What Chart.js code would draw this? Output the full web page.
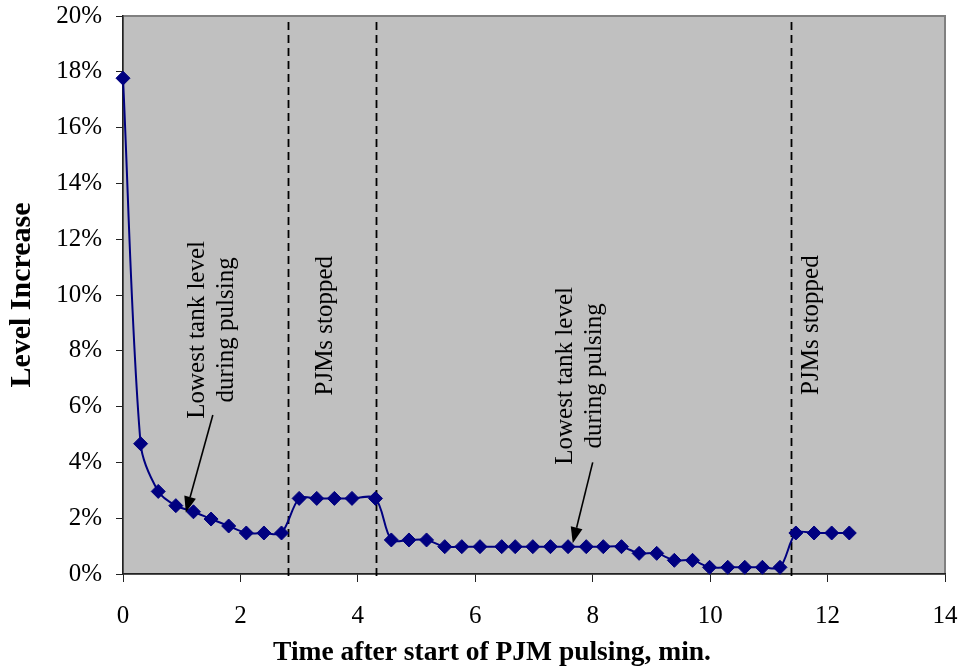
<!DOCTYPE html>
<html>
<head>
<meta charset="utf-8">
<script src="https://cdn.jsdelivr.net/npm/chart.js@4.4.0/dist/chart.umd.min.js"></script>
<style>
  html, body { margin: 0; padding: 0; background: #fff; }
  #wrap { width: 962px; height: 671px; }
</style>
</head>
<body>
<div id="wrap"><canvas id="levelChart"></canvas></div>
<script>
// time after start of pulsing (min) and level increase (%)
const timeMin = [0, 0.3, 0.6, 0.9, 1.2, 1.5, 1.8, 2.1, 2.4, 2.7,
  3.0, 3.3, 3.6, 3.9, 4.3, 4.57, 4.87, 5.17, 5.48, 5.77,
  6.08, 6.45, 6.68, 6.98, 7.28, 7.58, 7.89, 8.18, 8.49, 8.79,
  9.09, 9.39, 9.7, 9.99, 10.3, 10.59, 10.89, 11.19, 11.46, 11.77,
  12.07, 12.37]
const levelPct = [17.77, 4.67, 2.96, 2.45, 2.23, 1.97, 1.72, 1.47, 1.47, 1.47,
  2.71, 2.71, 2.71, 2.71, 2.71, 1.22, 1.22, 1.22, 0.98, 0.98,
  0.98, 0.98, 0.98, 0.98, 0.98, 0.98, 0.98, 0.98, 0.98, 0.74,
  0.74, 0.49, 0.49, 0.24, 0.24, 0.24, 0.24, 0.24, 1.47, 1.47,
  1.47, 1.47]

// times where the PJMs were switched off / on
const stopTimes = [2.81, 4.31, 11.38]

// notes drawn inside the plot: lines of text, centre (x in min, y in %)
const notes = [
  { lines: ['Lowest tank level', 'during pulsing'], x: 1.52, y: 8.75 },
  { lines: ['PJMs stopped'], x: 3.45, y: 8.9 },
  { lines: ['Lowest tank level', 'during pulsing'], x: 7.79, y: 7.1 },
  { lines: ['PJMs stopped'], x: 11.73, y: 8.92 }
]

// arrows: from (x0, y0) to tip (x1, y1)
const arrows = [
  { x0: 1.53, y0: 5.7, x1: 1.07, y1: 2.2 },
  { x0: 8.0, y0: 4.0, x1: 7.66, y1: 1.1 }
]

const xTitle = 'Time after start of PJM pulsing, min.'

const serif = 'Liberation Serif, Times New Roman, serif'
const points = timeMin.map((t, i) => ({ x: t, y: levelPct[i] }))

const plotDecor = {
  id: 'plotDecor',
  beforeDraw(chart) {
    const { ctx, chartArea: a } = chart
    ctx.save()
    ctx.fillStyle = '#c0c0c0'
    ctx.fillRect(a.left, a.top, a.right - a.left, a.bottom - a.top)
    ctx.strokeStyle = '#808080'
    ctx.lineWidth = 2
    ctx.strokeRect(a.left, a.top, a.right - a.left, a.bottom - a.top)
    ctx.restore()
  },
  beforeDatasetsDraw(chart) {
    const { ctx, chartArea: a, scales } = chart
    ctx.save()
    ctx.strokeStyle = '#000'
    ctx.lineWidth = 1.8
    ctx.setLineDash([8, 5])
    stopTimes.forEach(t => {
      const px = Math.round(scales.x.getPixelForValue(t)) + 0.5
      ctx.beginPath()
      ctx.moveTo(px, a.top + 6)
      ctx.lineTo(px, a.bottom + 6)
      ctx.stroke()
    })
    ctx.restore()
  },
  afterDatasetsDraw(chart) {
    const { ctx, scales } = chart
    ctx.save()
    ctx.fillStyle = '#000'
    ctx.font = '25px ' + serif
    ctx.textAlign = 'center'
    ctx.textBaseline = 'middle'
    notes.forEach(n => {
      const cx = scales.x.getPixelForValue(n.x)
      const cy = scales.y.getPixelForValue(n.y)
      const step = 29
      n.lines.forEach((line, i) => {
        const off = (i - (n.lines.length - 1) / 2) * step
        ctx.save()
        ctx.translate(cx + off, cy)
        ctx.rotate(-Math.PI / 2)
        ctx.fillText(line, 0, 0)
        ctx.restore()
      })
    })

    ctx.strokeStyle = '#000'
    ctx.lineWidth = 1.6
    arrows.forEach(ar => {
      const x0 = scales.x.getPixelForValue(ar.x0)
      const y0 = scales.y.getPixelForValue(ar.y0)
      const x1 = scales.x.getPixelForValue(ar.x1)
      const y1 = scales.y.getPixelForValue(ar.y1)
      const ang = Math.atan2(y1 - y0, x1 - x0)
      const len = 16, half = 6
      const bx = x1 - Math.cos(ang) * len
      const by = y1 - Math.sin(ang) * len
      ctx.beginPath()
      ctx.moveTo(x0, y0)
      ctx.lineTo(bx, by)
      ctx.stroke()
      ctx.beginPath()
      ctx.moveTo(x1, y1)
      ctx.lineTo(bx + Math.sin(ang) * half, by - Math.cos(ang) * half)
      ctx.lineTo(bx - Math.sin(ang) * half, by + Math.cos(ang) * half)
      ctx.closePath()
      ctx.fill()
    })
    ctx.restore()
  },
  afterDraw(chart) {
    // x axis title sits a bit left of the plot centre
    const { ctx, chartArea: a } = chart
    ctx.save()
    ctx.fillStyle = '#000'
    ctx.font = 'bold 27.5px ' + serif
    ctx.textAlign = 'center'
    ctx.textBaseline = 'alphabetic'
    ctx.fillText(xTitle, (a.left + a.right) / 2 - 42, a.bottom + 86)
    ctx.restore()
  }
}

const ctx = document.getElementById('levelChart')
const levelChart = new Chart(ctx, {
  type: 'scatter',
  data: {
    datasets: [{
      label: 'Level Increase',
      data: points,
      showLine: true,
      borderColor: '#000080',
      borderWidth: 2,
      tension: 0.3,
      pointStyle: 'rectRot',
      pointRadius: 7,
      pointHoverRadius: 7,
      pointBackgroundColor: '#000080',
      pointBorderColor: '#000080',
      pointBorderWidth: 1,
      clip: false
    }]
  },
  options: {
    responsive: true,
    maintainAspectRatio: false,
    animation: false,
    layout: { padding: { top: 16, right: 17, left: 0, bottom: 0 } },
    plugins: {
      legend: { display: false },
      tooltip: { enabled: false }
    },
    scales: {
      x: {
        type: 'linear',
        min: 0,
        max: 14,
        ticks: {
          stepSize: 2,
          color: '#000',
          padding: 19,
          font: { family: serif, size: 25 }
        },
        grid: { drawOnChartArea: false, tickLength: 8, color: '#222' },
        border: { color: '#222', width: 1.5 },
        afterFit(s) {
          s.height = 97
          s.paddingLeft = 0
          s.paddingRight = 0
        }
      },
      y: {
        min: 0,
        max: 20,
        ticks: {
          stepSize: 2,
          color: '#000',
          padding: 14,
          font: { family: serif, size: 25 },
          callback: v => v + '%'
        },
        grid: { drawOnChartArea: false, tickLength: 7, color: '#222' },
        border: { color: '#222', width: 1.5 },
        title: {
          display: true,
          text: 'Level Increase',
          color: '#000',
          font: { family: serif, size: 30, weight: 'bold' },
          padding: { top: 4, bottom: 0 }
        },
        afterFit(s) {
          s.width = 123
          s.paddingTop = 0
          s.paddingBottom = 0
        }
      }
    }
  },
  plugins: [plotDecor]
})
</script>
</body>
</html>
